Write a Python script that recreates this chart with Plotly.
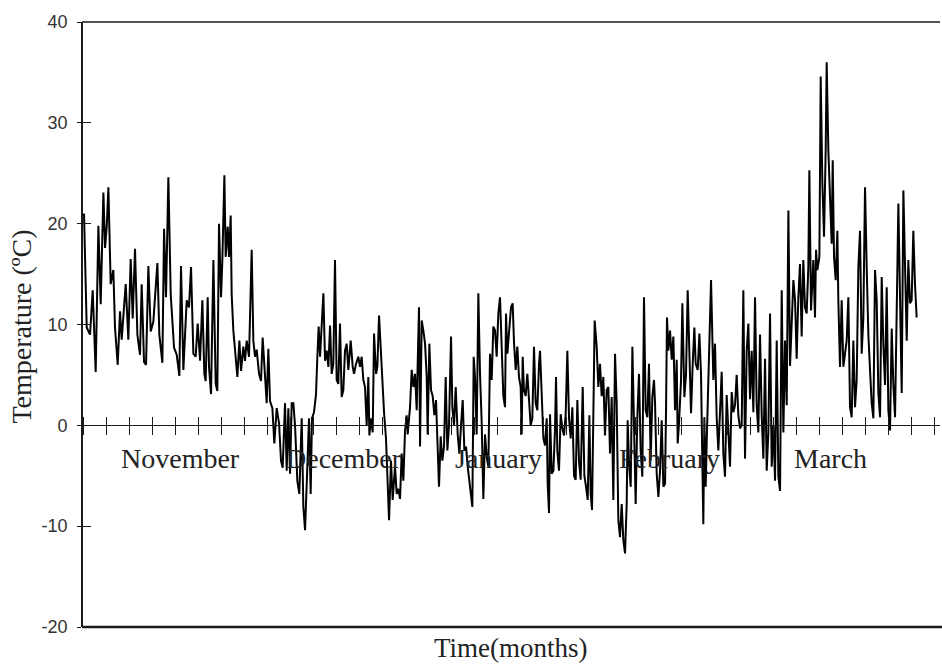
import plotly.graph_objects as go

# Air temperature record, November to March.
# Time is counted in days from the start of November; temperature in degrees C.
days_1 = [0.05, 0.52, 1.10, 1.56, 2.08, 2.55, 2.95, 3.42, 3.71, 4.00, 4.29, 4.69, 5.15, 5.44, 5.91,
          6.31, 6.60, 7.30, 7.76, 8.17, 8.52, 8.92, 9.33, 9.79, 10.08, 10.49, 10.84, 11.24, 11.65,
          12.11, 12.81, 13.15, 13.68, 13.97, 14.31, 14.72, 15.13, 15.71, 16.17, 16.63, 16.92, 17.33,
          17.91]
temps_1 = [21.0, 9.7, 9.0, 13.4, 5.3, 19.8, 12.0, 23.1, 17.6, 19.7, 23.6, 14.0, 15.4, 9.7, 6.0,
           11.3, 8.5, 14.0, 8.5, 16.5, 10.6, 17.5, 9.0, 7.0, 14.0, 6.3, 6.0, 15.8, 9.3,
           10.3, 16.1, 9.0, 6.2, 19.5, 12.7, 24.6, 13.0, 7.7, 7.0, 4.9, 15.8, 5.5,
           12.4]

days_2 = [18.31, 18.66, 19.07, 19.47, 19.82, 20.23, 20.63, 20.98, 21.21, 21.56, 21.79, 22.14, 22.55,
          22.95, 23.24, 23.53, 23.88, 24.11, 24.46, 24.69, 25.04, 25.27, 25.56, 25.73, 26.02, 26.31,
          26.72, 27.07, 27.36, 27.76, 28.05, 28.34, 28.75, 29.21, 29.50, 29.79, 30.08, 30.49, 30.83,
          31.12, 31.41, 31.82, 32.11, 32.40, 32.81, 33.15, 33.56, 33.97, 34.31, 34.60, 35.01, 35.30,
          35.59, 35.88, 36.17]
temps_2 = [11.7, 15.7, 7.1, 6.8, 10.1, 6.4, 12.4, 5.1, 4.4, 12.7, 5.8, 3.1, 16.4,
           4.1, 3.4, 20.0, 12.7, 16.4, 24.8, 16.7, 19.7, 16.7, 20.8, 13.0, 9.4, 7.5,
           4.8, 8.4, 5.4, 7.8, 6.4, 8.4, 6.8, 17.4, 8.4, 6.8, 7.5, 5.1, 4.4,
           8.7, 5.8, 2.2, 7.6, 2.4, 1.7, -1.8, 1.7, 0.2, -3.5, -4.2, 2.2, -4.5,
           1.7, -4.8, 2.2]

days_3 = [36.46, 36.75, 37.15, 37.50, 37.91, 38.20, 38.49, 38.89, 39.18, 39.47, 39.70, 40.05, 40.40,
          40.63, 40.86, 41.10, 41.39, 41.68, 41.97, 42.26, 42.55, 42.84, 43.12, 43.41, 43.70, 43.99,
          44.28, 44.57, 44.86, 45.15, 45.44, 45.73, 46.02, 46.43, 46.78, 47.01, 47.36, 47.76, 48.05,
          48.34, 48.63, 48.92, 49.21, 49.50, 49.68, 49.97, 50.26, 50.49, 50.84, 51.07, 51.36, 51.65,
          51.99, 52.23, 52.57, 52.86, 53.10, 53.44, 53.73, 54.14, 54.43]
temps_3 = [2.2, 0.0, -5.5, -6.8, 0.7, -8.1, -10.4, -4.1, 0.7, -6.8, 0.7, 1.3, 3.1,
           6.8, 9.8, 6.8, 10.7, 13.1, 6.4, 7.4, 5.8, 9.9, 5.1, 6.1, 16.4, 4.5,
           4.1, 10.1, 2.8, 3.5, 7.4, 8.1, 5.5, 8.4, 5.8, 5.1, 6.1, 6.8, 5.8,
           6.8, 4.5, 3.8, 0.0, 4.8, -1.0, 0.7, -0.7, 9.1, 5.1, 5.8, 10.9, 7.4,
           3.1, 1.3, -1.3, -5.5, -9.4, -3.5, -7.4, -4.1, -6.8]

days_4 = [54.72, 55.01, 55.30, 55.59, 55.88, 56.17, 56.34, 56.75, 57.04, 57.33, 57.62, 57.91, 58.08,
          58.31, 58.49, 58.78, 59.07, 59.36, 59.65, 59.82, 60.11, 60.40, 60.69, 60.98, 61.27, 61.56,
          61.79, 62.08, 62.37, 62.66, 62.95, 63.24, 63.53, 63.88, 64.11, 64.40, 64.69, 65.04, 65.33,
          65.62, 65.91, 66.20, 66.49, 66.78, 67.07, 67.36, 67.59, 67.82, 68.05, 68.34, 68.63, 68.92,
          69.21, 69.50, 69.79, 70.08, 70.37, 70.66, 70.95, 71.24, 71.53, 71.82, 72.11, 72.40, 72.69,
          72.98]
temps_4 = [-6.3, -7.3, -2.8, -5.5, -0.5, 1.0, -0.9, 1.8, 5.5, 3.8, 5.1, 1.5, 6.1,
           11.7, -2.1, 10.4, 9.4, 8.1, 4.8, -0.9, 8.1, 3.5, 2.9, 1.0, 2.5, -3.1,
           -6.1, -1.1, -3.5, -2.1, 4.8, -2.5, 0.0, 8.8, 1.8, 0.0, 3.8, -0.9, -2.8,
           0.0, 2.5, -2.5, -2.1, -4.1, -5.4, -7.1, -8.1, 6.8, 4.8, -0.9, 13.1, 5.1,
           0.3, -7.3, -0.9, -3.1, -4.1, 7.1, 4.5, 9.8, 9.4, 6.8, 11.1, 12.7, 7.8,
           2.9]

days_5 = [73.27, 73.44, 73.68, 74.02, 74.31, 74.60, 74.84, 75.13, 75.41, 75.70, 75.99, 76.17, 76.34,
          76.57, 76.86, 77.15, 77.44, 77.73, 78.02, 78.31, 78.60, 78.89, 79.18, 79.36, 79.65, 79.94,
          80.23, 80.52, 80.69, 80.92, 81.10, 81.39, 81.68, 81.97, 82.14, 82.37, 82.66, 82.95, 83.24,
          83.53, 83.82, 84.11, 84.40, 84.69, 84.98, 85.27, 85.56, 85.85, 86.14, 86.43, 86.78, 87.07,
          87.36, 87.65, 87.94, 88.17, 88.40, 88.63, 88.86, 89.21, 89.50, 89.79, 90.08, 90.37, 90.66,
          90.95]
temps_5 = [1.8, 11.1, 7.1, 10.1, 11.7, 12.1, 8.1, 5.5, 7.8, 4.8, 3.8, -0.9, 6.8,
           3.5, 2.9, 5.1, 1.8, 0.0, 0.7, 7.8, 2.2, 1.5, 6.1, 7.4, 3.1, -1.3,
           -2.0, 0.7, -5.8, -8.7, 1.1, -4.8, -4.5, -0.3, 4.8, -2.6, -4.5, 1.1, -0.3,
           -1.0, 1.1, 7.4, 0.7, -1.3, 1.8, -5.0, -5.4, 2.5, -3.6, -5.4, 3.8, -5.0,
           -6.1, -7.4, 1.0, -6.8, -8.4, 2.5, 10.4, 7.8, 3.8, 6.1, 2.9, 4.8, -1.0,
           3.5]

days_6 = [91.24, 91.53, 91.82, 92.11, 92.40, 92.69, 92.98, 93.27, 93.56, 93.85, 94.14, 94.43, 94.60,
          94.84, 95.13, 95.42, 95.70, 95.99, 96.28, 96.57, 96.86, 97.15, 97.44, 97.73, 98.02, 98.31,
          98.60, 98.89, 99.18, 99.36, 99.65, 99.94, 100.23, 100.52, 100.81, 101.10, 101.27, 101.44,
          101.68, 101.97, 102.26, 102.55, 102.84, 103.13, 103.30, 103.53, 103.88, 104.11, 104.46,
          104.75, 105.04, 105.33, 105.62, 105.91, 106.20, 106.43, 106.78, 107.07, 107.36, 107.59,
          107.76, 107.94, 108.17, 108.34, 108.75, 109.10, 109.50]
temps_6 = [3.8, -2.8, 2.8, -7.4, 7.1, 2.2, -9.4, -11.1, -7.8, -11.4, -12.7, -7.8, 0.5,
           -3.8, -6.1, 7.8, -0.2, -7.8, 0.8, 5.1, -2.5, -5.1, 12.7, 1.5, 0.8, 6.1,
           -3.5, 2.8, 4.5, 2.2, -4.8, -7.1, -4.5, 0.5, -6.1, -5.8, 1.5, 10.7,
           7.4, 9.4, 6.5, 8.8, 1.5, 6.5, -1.8, 0.2, 4.5, 12.1, 2.8,
           5.1, 13.4, 6.8, 1.2, 6.1, 9.7, 6.1, 5.5, 9.1, 5.1, -3.8,
           -9.8, 0.8, -6.1, -1.8, 6.1, 14.4, 4.5]

days_7 = [109.79, 110.08, 110.37, 110.66, 110.95, 111.24, 111.53, 111.82, 112.11, 112.40, 112.69,
          112.98, 113.27, 113.56, 113.85, 114.14, 114.43, 114.72, 115.01, 115.30, 115.59, 115.88,
          116.17, 116.46, 116.75, 117.04, 117.33, 117.62, 117.91, 118.20, 118.49, 118.78, 119.07,
          119.36, 119.65, 119.94, 120.23, 120.52, 120.81, 121.10, 121.39, 121.68, 121.97, 122.26,
          122.55, 122.84, 123.42, 123.71, 123.99, 124.28, 124.57, 124.86, 125.15, 125.44, 125.73,
          126.02, 126.20, 126.49, 126.89]
temps_7 = [8.1, 0.8, -2.5, 1.3, 5.3, -2.8, -5.1, 3.0, -0.7, -4.1, 3.3,
           1.3, 2.0, 5.0, 1.0, -0.3, 0.0, 13.4, -3.3, 7.4, 10.1, 2.6,
           7.4, 1.3, 12.7, 2.0, -0.7, 9.0, 1.0, -3.3, 6.6, -4.5, -0.7,
           11.1, -4.1, 0.0, -5.5, 8.4, -5.1, -6.5, 13.4, -0.7, 8.4, 2.0,
           21.3, 5.9, 14.4, 12.4, 6.6, 12.7, 16.0, 8.8, 16.4, 11.7, 11.1,
           15.7, 25.3, 11.4, 16.4]

days_8 = [127.18, 127.36, 127.59, 127.94, 128.17, 128.46, 128.75, 129.04, 129.21, 129.50, 129.79,
          130.08, 130.26, 130.49, 130.78, 131.07, 131.24, 131.53, 131.82, 132.11, 132.69, 132.98,
          133.27, 133.56, 133.85, 134.14, 134.43, 134.72, 135.01, 135.30, 135.59, 135.88, 136.17,
          136.46, 136.75, 137.04, 137.33, 137.62, 137.91, 138.20, 138.49, 138.78, 139.07, 139.36,
          139.65, 139.94, 140.23, 140.52, 140.81, 141.10, 141.68, 141.97, 142.26, 142.55, 142.84,
          143.13, 143.41, 143.70, 143.99, 144.28, 144.57, 144.86]
temps_8 = [10.7, 17.4, 15.4, 16.7, 34.6, 24.0, 18.7, 27.3, 36.0, 27.3, 22.6,
           18.0, 26.3, 16.7, 14.4, 19.3, 12.4, 5.8, 12.4, 5.8, 8.4, 12.7,
           1.8, 0.8, 8.4, 1.8, 4.5, 15.7, 19.3, 7.1, 10.7, 23.6, 15.7,
           9.0, 5.5, 2.2, 0.7, 15.4, 12.4, 3.2, 0.8, 14.7, 8.0, 4.0,
           13.7, 1.5, -0.5, 9.6, 4.0, 0.8, 22.0, 11.4, 3.2, 23.3, 15.7,
           8.4, 16.4, 12.1, 12.4, 19.3, 14.0, 10.7]

# Month names and the day at which each name is centred along the time axis
month_names = ["November", "December", "January", "February", "March"]
month_centres = [16.75, 45.27, 72.05, 101.8, 129.8]

# Temperature axis ticks, written with a plain hyphen for negatives
temp_ticks = [-20, -10, 0, 10, 20, 30, 40]
temp_tick_text = ["-20", "-10", "0", "10", "20", "30", "40"]

day = days_1 + days_2 + days_3 + days_4 + days_5 + days_6 + days_7 + days_8
temp_c = temps_1 + temps_2 + temps_3 + temps_4 + temps_5 + temps_6 + temps_7 + temps_8

SERIF = "Liberation Serif, Times New Roman, serif"
SANS = "Liberation Sans, Arial, sans-serif"
INK = "#1a1a1a"

fig = go.Figure()
fig.add_trace(go.Scatter(
    x=day, y=temp_c, mode="lines",
    line=dict(color="black", width=2.0),
    hoverinfo="skip", showlegend=False,
))
# empty trace on the overlay axes that draw the inward half of the ticks
fig.add_trace(go.Scatter(x=[], y=[], xaxis="x2", yaxis="y2", showlegend=False))

zero_pos = (0 - (-20)) / 60.0

fig.update_layout(
    width=942, height=664,
    margin=dict(l=82, r=2, t=22, b=37),
    paper_bgcolor="white", plot_bgcolor="white",
    showlegend=False,
    xaxis=dict(
        range=[-0.3, 148.92], anchor="free", position=zero_pos,
        showline=True, linecolor=INK, linewidth=1.3,
        ticks="outside", ticklen=9, tickwidth=1.3, tickcolor=INK,
        tick0=0, dtick=4, showticklabels=False,
        showgrid=False, zeroline=False,
    ),
    xaxis2=dict(
        overlaying="x", matches="x", anchor="free", position=zero_pos,
        showline=False, ticks="inside", ticklen=8, tickwidth=1.3, tickcolor=INK,
        tick0=0, dtick=4, showticklabels=False,
        showgrid=False, zeroline=False,
    ),
    yaxis=dict(
        range=[-20, 40], tickmode="array", tickvals=temp_ticks, ticktext=temp_tick_text,
        anchor="free", position=0,
        showline=True, linecolor=INK, linewidth=1.6,
        ticks="outside", ticklen=4, tickwidth=1.3, tickcolor=INK,
        tickfont=dict(family=SANS, size=18, color="#333"),
        ticklabelstandoff=6,
        showgrid=False, zeroline=False,
    ),
    yaxis2=dict(
        overlaying="y", matches="y", anchor="free", position=0,
        showline=False, ticks="inside", ticklen=8, tickwidth=1.3, tickcolor=INK,
        tickmode="array", tickvals=temp_ticks, showticklabels=False,
        showgrid=False, zeroline=False,
    ),
    shapes=[
        dict(type="line", xref="paper", yref="paper", x0=0, x1=1, y0=1, y1=1,
             line=dict(color=INK, width=1.5)),
        dict(type="line", xref="paper", yref="paper", x0=0, x1=1.003, y0=0, y1=0,
             line=dict(color=INK, width=2.5)),
    ],
)

for name, centre in zip(month_names, month_centres):
    fig.add_annotation(
        x=centre, y=-3.3, xref="x", yref="y", text=name, showarrow=False,
        xanchor="center", yanchor="middle",
        font=dict(family=SERIF, size=28, color="#222"),
    )

fig.add_annotation(
    x=-0.0703, y=0.496, xref="paper", yref="paper", text="Temperature (ºC)",
    textangle=-90, showarrow=False, xanchor="center", yanchor="middle",
    font=dict(family=SERIF, size=28, color="#222"),
)
fig.add_annotation(
    x=0.5, y=-0.0347, xref="paper", yref="paper", text="Time(months)",
    showarrow=False, xanchor="center", yanchor="middle",
    font=dict(family=SERIF, size=27, color="#222"),
)

fig.write_html("out.html")
